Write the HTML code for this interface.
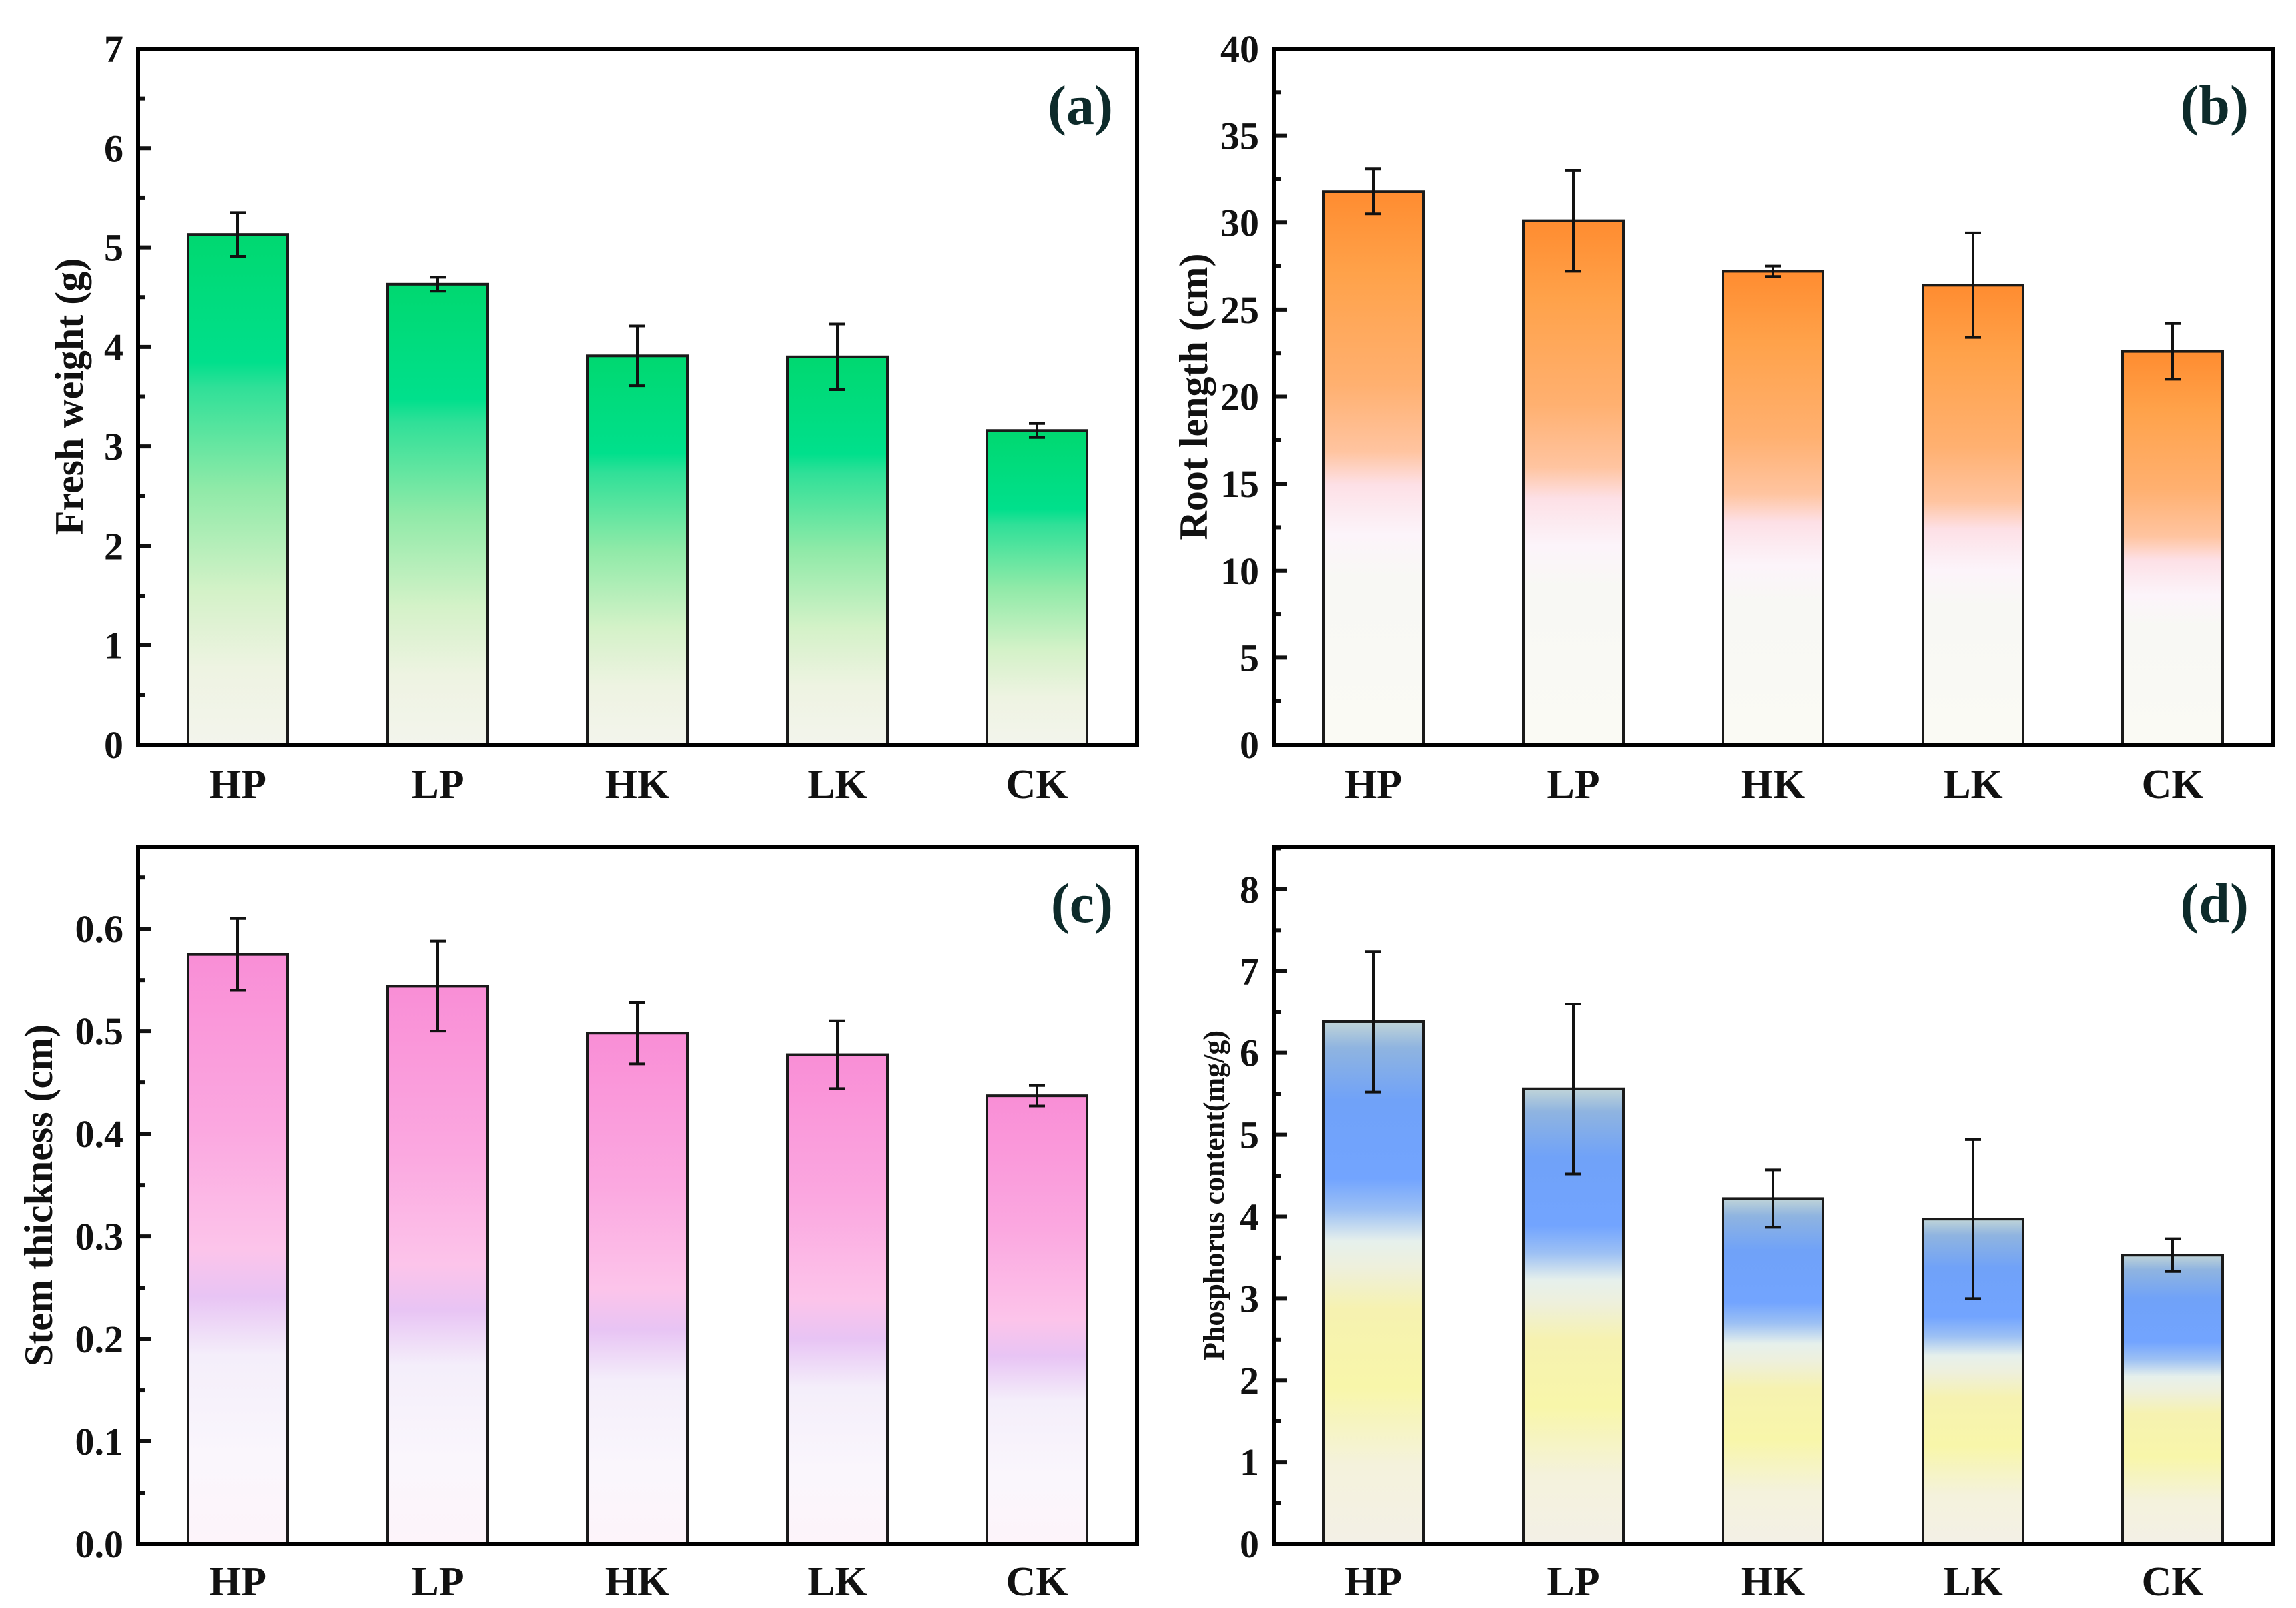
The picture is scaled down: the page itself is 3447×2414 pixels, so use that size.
<!DOCTYPE html>
<html><head><meta charset="utf-8"><style>
html,body{margin:0;padding:0;background:#fff;}
svg{display:block;font-family:"Liberation Serif",serif;font-weight:bold;}
</style></head><body>
<svg id="chart" width="3447" height="2414" viewBox="0 0 3447 2414" xmlns="http://www.w3.org/2000/svg">
<defs>
<linearGradient id="gA" x1="0" y1="0" x2="0" y2="1">
<stop offset="0" stop-color="#00d870"/><stop offset="0.25" stop-color="#00e08c"/><stop offset="0.3" stop-color="#30e098"/><stop offset="0.5" stop-color="#90eaa8"/><stop offset="0.7" stop-color="#d4f2c8"/><stop offset="0.85" stop-color="#eef3e2"/><stop offset="1" stop-color="#f3f4ec"/>
</linearGradient>
<linearGradient id="gB" x1="0" y1="0" x2="0" y2="1">
<stop offset="0" stop-color="#ff8c30"/><stop offset="0.15" stop-color="#ffa24a"/><stop offset="0.35" stop-color="#ffb070"/><stop offset="0.47" stop-color="#ffc4a0"/><stop offset="0.53" stop-color="#fde0e6"/><stop offset="0.62" stop-color="#fcf4fa"/><stop offset="0.7" stop-color="#f8f8f4"/><stop offset="1" stop-color="#fafaf4"/>
</linearGradient>
<linearGradient id="gC" x1="0" y1="0" x2="0" y2="1">
<stop offset="0" stop-color="#f98ed6"/><stop offset="0.3" stop-color="#fba8e0"/><stop offset="0.5" stop-color="#fcc4ea"/><stop offset="0.58" stop-color="#e8c4f4"/><stop offset="0.68" stop-color="#f4eefa"/><stop offset="0.85" stop-color="#faf6fc"/><stop offset="1" stop-color="#fdf4fa"/>
</linearGradient>
<linearGradient id="gD" x1="0" y1="0" x2="0" y2="1">
<stop offset="0" stop-color="#c0d4d8"/><stop offset="0.05" stop-color="#8fb4e0"/><stop offset="0.15" stop-color="#70a2f8"/><stop offset="0.3" stop-color="#72a4ff"/><stop offset="0.36" stop-color="#9cc0f4"/><stop offset="0.42" stop-color="#e6f0ec"/><stop offset="0.47" stop-color="#eef0dc"/><stop offset="0.55" stop-color="#f6f2b0"/><stop offset="0.7" stop-color="#f8f6aa"/><stop offset="0.85" stop-color="#f4f2dc"/><stop offset="1" stop-color="#f3f0e6"/>
</linearGradient>
</defs>
</svg>
<script>
const categories = ["HP","LP","HK","LK","CK"];
const valuesA = [5.13,4.63,3.91,3.90,3.16];
const errorsA = [0.22,0.07,0.30,0.33,0.07];
const valuesB = [31.8,30.1,27.2,26.4,22.6];
const errorsB = [1.3,2.9,0.3,3.0,1.6];
const valuesC = [0.575,0.544,0.498,0.477,0.437];
const errorsC = [0.035,0.044,0.030,0.033,0.010];
const valuesD = [6.38,5.56,4.22,3.97,3.53];
const errorsD = [0.86,1.04,0.35,0.97,0.20];
const ticksA = ["0","1","2","3","4","5","6","7"];
const ticksB = ["0","5","10","15","20","25","30","35","40"];
const ticksC = ["0.0","0.1","0.2","0.3","0.4","0.5","0.6"];
const ticksD = ["0","1","2","3","4","5","6","7","8"];

const NS="http://www.w3.org/2000/svg";
const svg=document.getElementById('chart');
function mk(tag,attrs,parent){const e=document.createElementNS(NS,tag);for(const k in attrs)e.setAttribute(k,attrs[k]);(parent||svg).appendChild(e);return e;}

function panel(cfg){
  const g=mk('g',{});
  
  
  const {x0,x1,y0,y1,max,step,minor}=cfg;
  const W=x1-x0;
  const ys=v=>y1-(v/max)*(y1-y0);
  const xs=i=>x0+W*(0.1+0.2*i);
  const bw=W*0.1;
  cfg.values.forEach((v,i)=>{
    const r=mk('rect',{x:xs(i)-bw/2,y:ys(v),width:bw,height:y1-ys(v),fill:'url(#'+cfg.grad+')',stroke:'#1a1a1a','stroke-width':4},g);
    
    
    const e=cfg.errors[i];
    const eb=mk('path',{d:`M${xs(i)},${ys(v+e)}V${ys(v-e)}M${xs(i)-12},${ys(v+e)}h24M${xs(i)-12},${ys(v-e)}h24`,stroke:'#111','stroke-width':4,fill:'none'},g);
    
    
    const t=mk('text',{x:xs(i),y:cfg.xly,'text-anchor':'middle','font-size':62,fill:'#111'},g);
    t.textContent=categories[i];
    
    
  });
  cfg.ticks.forEach((lab,k)=>{
    const v=k*step;
    mk('line',{x1:x0,x2:x0+20,y1:ys(v),y2:ys(v),stroke:'#111','stroke-width':6},g);
    if(minor){const vm=v+step/2; if(vm<max) mk('line',{x1:x0,x2:x0+11,y1:ys(vm),y2:ys(vm),stroke:'#111','stroke-width':6},g);}
    const t=mk('text',{x:x0-22,y:ys(v)+20,'text-anchor':'end','font-size':58,fill:'#111'},g);
    t.textContent=lab;
    
    
  });
  const f=mk('rect',{x:x0,y:y0,width:W,height:y1-y0,fill:'none',stroke:'#000','stroke-width':6},g);
  
  
  const yt=mk('text',{x:0,y:0,transform:`translate(${cfg.ytx},${(y0+y1)/2}) rotate(-90)`,'text-anchor':'middle','font-size':cfg.yfs,fill:'#111'},g);
  yt.textContent=cfg.ytitle;
  
  
  const pl=mk('text',{x:x1-36,y:y0+113,'text-anchor':'end','font-size':84,fill:'#0d2a2a'},g);
  pl.textContent='('+cfg.id+')';
  
  
}
const top1=73,bot1=1118,top2=1271,bot2=2318;
panel({id:'a',x0:207,x1:1707,y0:top1,y1:bot1,max:7,step:1,minor:true,values:valuesA,errors:errorsA,ticks:ticksA,grad:'gA',ytitle:'Fresh weight (g)',ytx:124,yfs:60,xly:1198});
panel({id:'b',x0:1912,x1:3412,y0:top1,y1:bot1,max:40,step:5,minor:true,values:valuesB,errors:errorsB,ticks:ticksB,grad:'gB',ytitle:'Root length (cm)',ytx:1812,yfs:60,xly:1198});
panel({id:'c',x0:207,x1:1707,y0:top2,y1:bot2,max:0.68,step:0.1,minor:true,values:valuesC,errors:errorsC,ticks:ticksC,grad:'gC',ytitle:'Stem thickness (cm)',ytx:78,yfs:60,xly:2395});
panel({id:'d',x0:1912,x1:3412,y0:top2,y1:bot2,max:8.52,step:1,minor:true,values:valuesD,errors:errorsD,ticks:ticksD,grad:'gD',ytitle:'Phosphorus content(mg/g)',ytx:1837,yfs:44,xly:2395});
</script>
</body></html>
